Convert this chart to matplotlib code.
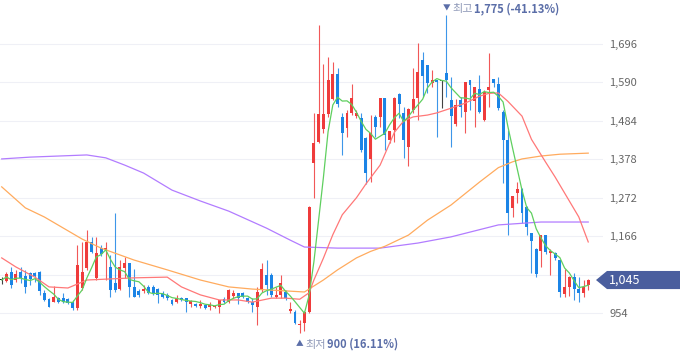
import matplotlib
matplotlib.use("Agg")
import matplotlib.pyplot as plt
import matplotlib.transforms as mtransforms
from matplotlib.patches import Polygon
import numpy as np
import pandas as pd

plt.rcParams['font.family'] = ['Noto Sans CJK KR', 'DejaVu Sans']

# daily candles, oldest first
opens = [1045, 1042, 1067, 1045, 1067, 1056, 1064, 1064, 1067, 1009,
         993, 984, 995, 995, 993, 984, 968, 1023, 1078, 1150,
         1051, 1133, 1128, 1081, 1037, 1020, 1078, 1092, 1026, 1015,
         1015, 1026, 1026, 1020, 1009, 1004, 990, 984, 995, 995,
         979, 979, 973, 976, 971, 971, 971, 993, 984, 1001,
         1009, 1009, 995, 984, 971, 1017, 1059, 1059, 998, 1004,
         1012, 960, 957, 921, 926, 957, 1368, 1426, 1461, 1503,
         1544, 1613, 1495, 1464, 1506, 1497, 1492, 1437, 1379, 1495,
         1495, 1547, 1431, 1459, 1558, 1506, 1412, 1514, 1547, 1652,
         1638, 1588, 1597, 1594, 1616, 1542, 1475, 1542, 1509, 1597,
         1539, 1572, 1486, 1569, 1599, 1586, 1508, 1431, 1244, 1285,
         1296, 1246, 1175, 1131, 1125, 1169, 1120, 1120, 1100, 1006,
         1026, 1053, 1020, 1009, 1031]
highs = [1053, 1067, 1081, 1073, 1081, 1073, 1067, 1067, 1070, 1017,
         995, 1028, 998, 1009, 995, 990, 1142, 1150, 1183, 1164,
         1164, 1142, 1150, 1114, 1230, 1100, 1108, 1092, 1075, 1020,
         1031, 1031, 1031, 1023, 1015, 1009, 993, 1004, 998, 995,
         990, 982, 990, 979, 984, 976, 990, 998, 1020, 1017,
         1009, 1012, 998, 995, 1026, 1092, 1100, 1064, 1026, 1059,
         1017, 984, 962, 935, 960, 1250, 1506, 1748, 1640, 1660,
         1646, 1630, 1506, 1514, 1586, 1514, 1506, 1440, 1500, 1500,
         1547, 1547, 1456, 1550, 1561, 1522, 1519, 1630, 1699, 1674,
         1638, 1624, 1597, 1597, 1775, 1605, 1544, 1550, 1591, 1597,
         1577, 1610, 1569, 1671, 1599, 1605, 1514, 1459, 1277, 1315,
         1299, 1249, 1175, 1133, 1169, 1169, 1131, 1122, 1100, 1075,
         1056, 1064, 1053, 1045, 1048]
lows = [1034, 1040, 1023, 1040, 1037, 1009, 1031, 1040, 1004, 987,
        971, 984, 982, 981, 980, 962, 962, 1017, 1073, 1119,
        1045, 1111, 1045, 998, 1012, 1017, 1051, 998, 998, 998,
        1009, 1006, 1004, 982, 995, 990, 976, 982, 987, 957,
        971, 971, 968, 965, 962, 968, 954, 982, 982, 995,
        979, 995, 982, 957, 921, 1012, 1004, 998, 995, 995,
        990, 954, 924, 900, 905, 955, 1271, 1423, 1450, 1495,
        1541, 1522, 1390, 1439, 1500, 1492, 1398, 1310, 1315, 1439,
        1467, 1404, 1423, 1426, 1492, 1382, 1359, 1506, 1486, 1550,
        1561, 1577, 1440, 1520, 1550, 1412, 1470, 1495, 1450, 1514,
        1467, 1506, 1484, 1522, 1577, 1514, 1313, 1169, 1219, 1257,
        1202, 1169, 1064, 1053, 1081, 1117, 1059, 1100, 998, 998,
        1001, 990, 984, 998, 1017]
closes = [1045, 1062, 1031, 1062, 1051, 1026, 1048, 1056, 1015, 990,
          971, 998, 984, 984, 982, 968, 1086, 1067, 1150, 1122,
          1119, 1117, 1133, 1017, 1017, 1081, 1092, 1026, 998, 1004,
          1020, 1009, 1006, 1004, 998, 995, 979, 995, 990, 984,
          987, 973, 979, 968, 976, 973, 990, 984, 1017, 1009,
          995, 998, 984, 976, 1012, 1075, 1031, 1004, 1004, 1037,
          995, 965, 926, 924, 957, 1246, 1423, 1503, 1503, 1597,
          1613, 1530, 1450, 1506, 1547, 1506, 1404, 1340, 1450, 1467,
          1547, 1445, 1456, 1547, 1530, 1431, 1517, 1544, 1619, 1608,
          1588, 1597, 1591, 1594, 1597, 1497, 1528, 1522, 1591, 1583,
          1577, 1509, 1564, 1577, 1588, 1520, 1431, 1230, 1277, 1296,
          1230, 1191, 1153, 1062, 1169, 1122, 1125, 1106, 1012, 1026,
          1053, 1020, 1009, 1026, 1045]

# longer moving averages (candle index, price)
ma20_idx = [0, 3, 7, 10, 14, 18, 23, 28, 35, 38, 42, 46, 50, 53, 57, 60, 63, 65,
            66, 67, 68, 70, 72, 75, 77, 80, 81, 83, 85, 87, 90, 92, 95, 98, 101,
            103, 105, 107, 110, 112, 115, 117, 119, 122, 124]
ma20_val = [1106, 1081, 1053, 1026, 1023, 1045, 1048, 1051, 1053, 1026, 1004, 990,
            990, 984, 995, 995, 992, 1010, 1045, 1075, 1105, 1170, 1225, 1272, 1310,
            1362, 1392, 1452, 1484, 1495, 1500, 1506, 1519, 1533, 1552, 1560, 1561,
            1538, 1497, 1433, 1370, 1329, 1285, 1219, 1150]
ma60_idx = [0, 5, 9, 17, 21, 28, 35, 42, 48, 53, 60, 64, 68, 71, 75, 78, 81, 86,
            90, 95, 101, 105, 108, 110, 114, 118, 124]
ma60_val = [1302, 1244, 1219, 1158, 1133, 1100, 1073, 1045, 1026, 1020, 1015, 1012,
            1045, 1073, 1106, 1124, 1138, 1169, 1210, 1252, 1315, 1355, 1371, 1379,
            1387, 1392, 1395]
ma120_idx = [0, 6, 12, 18, 22, 26, 30, 36, 42, 48, 56, 61, 64, 71, 80, 88, 95,
             105, 114, 124]
ma120_val = [1379, 1384, 1387, 1390, 1382, 1362, 1340, 1293, 1263, 1235, 1188, 1155,
             1136, 1133, 1133, 1147, 1164, 1197, 1205, 1205]

ytick_vals = [954, 1060, 1166, 1272, 1378, 1484, 1590, 1696]

RED = '#ef3b3b'
BLUE = '#1b84e6'
BLACK = '#222222'

o = np.array(opens)
h = np.array(highs)
l = np.array(lows)
c = np.array(closes)
x = np.arange(len(c))
last = c[-1]

fig = plt.figure(figsize=(6.8, 3.58), dpi=100)
ax = fig.add_axes([0, 0, 603 / 680, 1])

cols = np.where(c > o, RED, np.where(c < o, BLUE, BLACK))
ax.vlines(x, l, h, colors=cols, lw=0.8, alpha=0.85, zorder=2)
body_h = np.maximum(np.abs(c - o), 1.5)
ax.bar(x, body_h, bottom=np.minimum(o, c), width=0.62, color=cols, lw=0, zorder=3)

ma5 = pd.Series(c).rolling(5, min_periods=1).mean()
ax.plot(ma120_idx, ma120_val, color='#b27cff', lw=0.9, zorder=4)
ax.plot(ma60_idx, ma60_val, color='#ffab5e', lw=0.9, zorder=4)
ax.plot(ma20_idx, ma20_val, color='#ff7878', lw=0.9, zorder=4)
ax.plot(x, ma5, color='#5fcf5f', lw=0.9, zorder=5)

ax.set_xlim(-0.36, 127.12)
ax.set_ylim(829.9, 1817.4)
ax.set_xticks([])
ax.set_yticks(ytick_vals)
# the current-price tag sits on top of the level closest to the last close
covered = min(ytick_vals, key=lambda v: abs(v - last))
ax.set_yticklabels(["" if v == covered else f"{v:,}" for v in ytick_vals])
ax.yaxis.tick_right()
ax.tick_params(axis='y', length=0, pad=4.5, labelsize=8, labelcolor='#666666')
ax.grid(axis='y', color='#eff0f6', lw=0.8)
ax.set_axisbelow(True)
for s in ax.spines.values():
    s.set_visible(False)

# high / low markers
hi_i = int(np.argmax(h))
lo_i = int(np.argmin(l))
hi, lo = h[hi_i], l[lo_i]
mark_col = '#5b6ea8'
word_col = '#8f99b8'

def marker(i, y, dy, tri, word, txt):
    ax.annotate(tri, xy=(i, y), xytext=(0, dy), textcoords='offset points',
                ha='center', va='center', fontsize=5.5, color=mark_col, annotation_clip=False)
    ax.annotate(word, xy=(i, y), xytext=(4.3, dy), textcoords='offset points',
                ha='left', va='center', fontsize=8, color=word_col, annotation_clip=False)
    ax.annotate(txt, xy=(i, y), xytext=(19.6, dy), textcoords='offset points',
                ha='left', va='center', fontsize=8, color=mark_col, fontweight='bold',
                annotation_clip=False)

marker(hi_i, hi, 4.6, '▼', '최고', f"{hi:,} ({(last - hi) / hi * 100:.2f}%)")
marker(lo_i, lo, -8.6, '▲', '최저', f"{lo:,} ({(last - lo) / lo * 100:.2f}%)")

# current price tag
tr = mtransforms.blended_transform_factory(fig.transFigure, ax.transData)
half = 25
tag = Polygon([(596 / 680, last), (607 / 680, last + half), (1, last + half),
               (1, last - half), (607 / 680, last - half)],
              closed=True, transform=tr, facecolor='#4a5e9e', edgecolor='none', zorder=5)
fig.add_artist(tag)
fig.text(609 / 680, last, f"{last:,}", transform=tr, ha='left', va='center',
         fontsize=9, color='white', zorder=6)

fig.savefig('out.png', dpi=100)
